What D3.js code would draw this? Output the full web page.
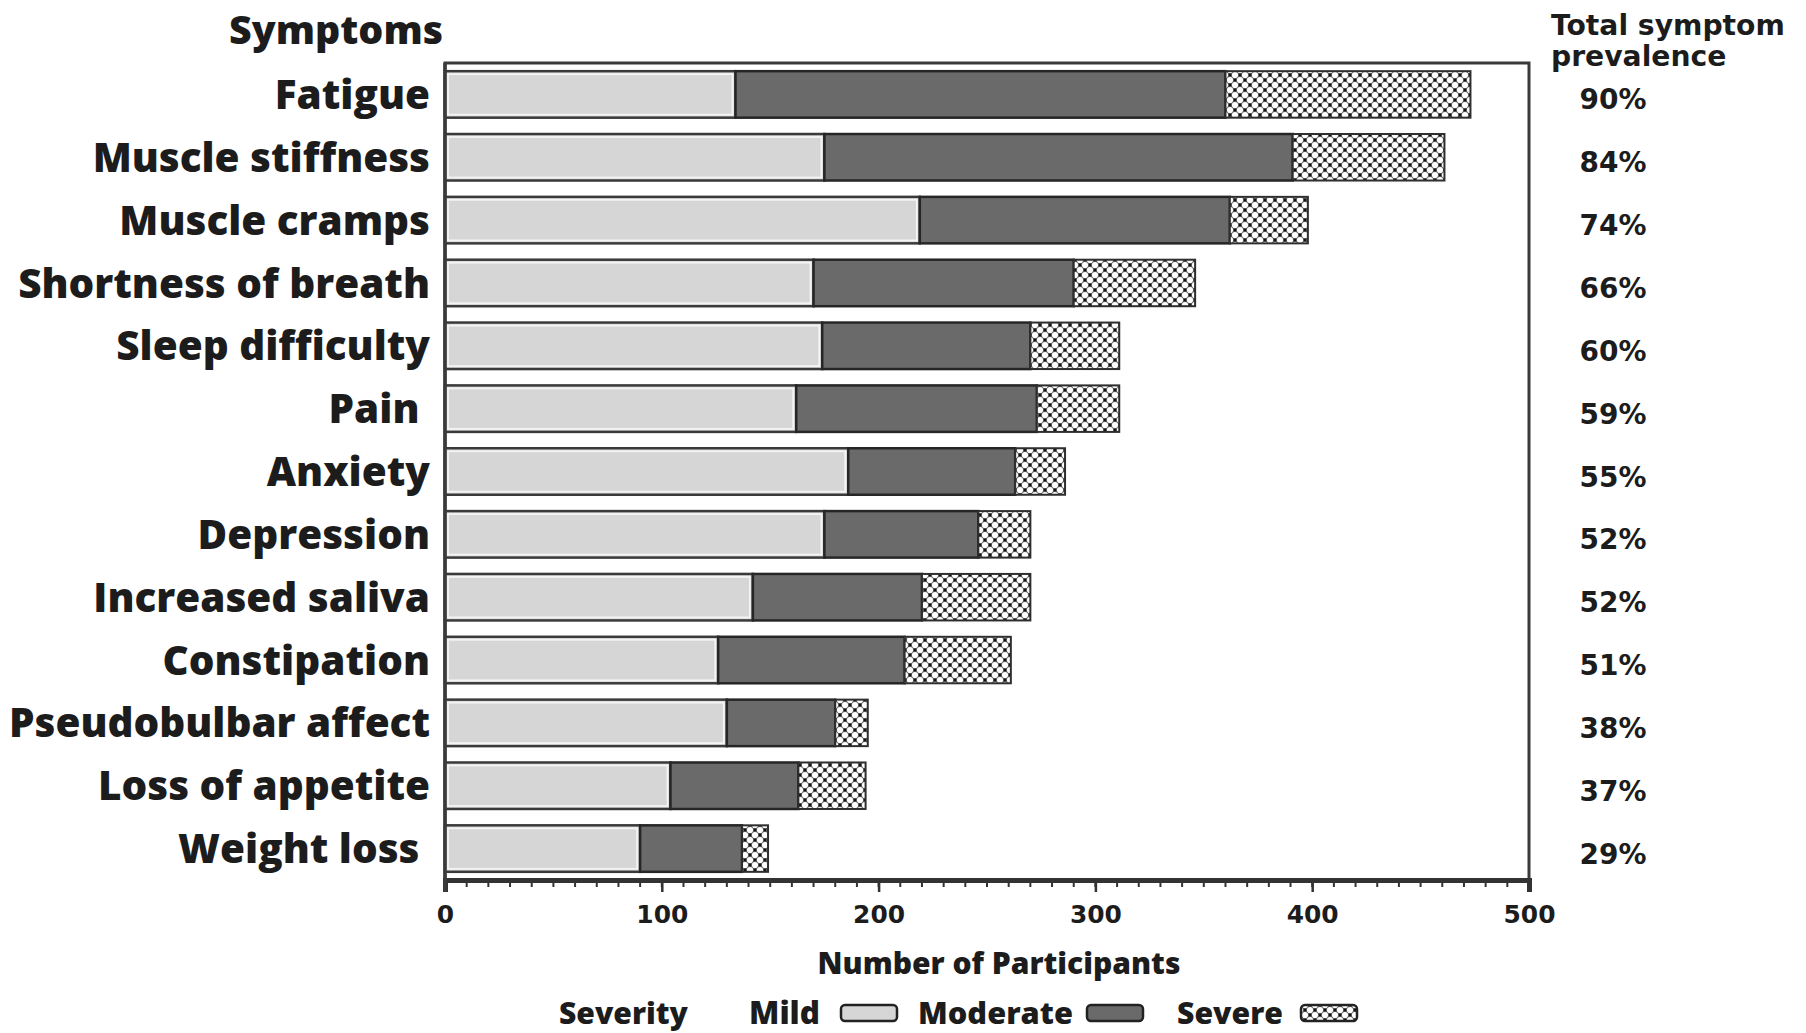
<!DOCTYPE html>
<html>
<head>
<meta charset="utf-8">
<script src="https://cdn.jsdelivr.net/npm/d3@7"></script>
<style>
  html, body { margin: 0; padding: 0; background: #ffffff; }
  svg { display: block; }
  text { white-space: pre; }
</style>
</head>
<body>
<svg id="chart" width="1806" height="1033"></svg>
<script>
// ---------------- data ----------------
const categories = ["Fatigue", "Muscle stiffness", "Muscle cramps", "Shortness of breath",
  "Sleep difficulty", "Pain ", "Anxiety", "Depression", "Increased saliva", "Constipation",
  "Pseudobulbar affect", "Loss of appetite", "Weight loss "];
const mild     = [134, 175, 219, 170, 174, 162, 186, 175, 142, 126, 130, 104, 90];
const moderate = [226, 216, 143, 120,  96, 111,  77,  71,  78,  86,  50,  59, 47];
const severe   = [113,  70,  36,  56,  41,  38,  23,  24,  50,  49,  15,  31, 12];
const prevalence = ["90%", "84%", "74%", "66%", "60%", "59%", "55%", "52%", "52%", "51%", "38%", "37%", "29%"];
const xTicks = [0, 100, 200, 300, 400, 500];
const severityLevels = ["Mild", "Moderate", "Severe"];
const yTitle = "Symptoms";
const xTitle = "Number of Participants";
const rightTitle = ["Total symptom", "prevalence"];
const legendTitle = "Severity";

// ---------------- layout ----------------
const svg = d3.select("#chart");
const plot = { left: 445, right: 1529, top: 63, bottom: 880 };
const labelFont = "'Open Sans', Lato, sans-serif";
const wideFont = "'DejaVu Sans', Verdana, sans-serif";
const ink = "#1c1c1c";

const x = d3.scaleLinear().domain([0, 500]).range([plot.left, plot.right]);
const y = d3.scaleBand().domain(categories).range([plot.top, plot.bottom])
  .paddingInner(0.26).paddingOuter(0.13);

const fillMild = "#d6d6d6", fillMod = "#6a6a6a";

// pattern for severe
const defs = svg.append("defs");
const P = 10;
const pat = defs.append("pattern").attr("id", "severePat")
  .attr("patternUnits", "userSpaceOnUse").attr("width", P).attr("height", P);
pat.append("rect").attr("width", P).attr("height", P).attr("fill", "#555");
[[0,0],[P,0],[0,P],[P,P],[P/2,P/2]].forEach(([cx, cy]) =>
  pat.append("circle").attr("cx", cx).attr("cy", cy).attr("r", 3.1).attr("fill", "#ffffff"));
[[P/2,0],[0,P/2],[P,P/2],[P/2,P]].forEach(([cx, cy]) =>
  pat.append("circle").attr("cx", cx).attr("cy", cy).attr("r", 1.2).attr("fill", "#111"));

// stacked data
const rows = categories.map((c, i) => ({ cat: c, parts: [
  { key: "Mild", x0: 0, x1: mild[i] },
  { key: "Moderate", x0: mild[i], x1: mild[i] + moderate[i] },
  { key: "Severe", x0: mild[i] + moderate[i], x1: mild[i] + moderate[i] + severe[i] }
]}));

// frame (top and right)
svg.append("path")
  .attr("d", `M${plot.left},${plot.bottom} V${plot.top} H${plot.right} V${plot.bottom}`)
  .attr("fill", "none").attr("stroke", "#3a3a3a").attr("stroke-width", 3);

// bars
const barG = svg.append("g");
rows.forEach(r => {
  const yy = y(r.cat), h = y.bandwidth();
  r.parts.forEach(p => {
    const x0 = x(p.x0), w = x(p.x1) - x(p.x0);
    if (p.key === "Mild") {
      barG.append("rect").attr("x", x0).attr("y", yy).attr("width", w).attr("height", h)
        .attr("fill", fillMild).attr("stroke", "#3a3a3a").attr("stroke-width", 2.5);
      barG.append("rect").attr("x", x0 + 3).attr("y", yy + 3).attr("width", w - 6).attr("height", h - 6)
        .attr("fill", "none").attr("stroke", "#f4f4f4").attr("stroke-width", 1.8);
    } else if (p.key === "Moderate") {
      barG.append("rect").attr("x", x0).attr("y", yy).attr("width", w).attr("height", h)
        .attr("fill", fillMod).attr("stroke", "#262626").attr("stroke-width", 2.5);
    } else {
      barG.append("rect").attr("x", x0).attr("y", yy).attr("width", w).attr("height", h)
        .attr("fill", "url(#severePat)").attr("stroke", "#2e2e2e").attr("stroke-width", 2);
    }
  });
});

// x axis
const minorTicks = d3.range(0, 501, 10);
const axisG = svg.append("g").attr("transform", `translate(0,${plot.bottom})`);
axisG.selectAll("line.minor").data(minorTicks).join("line").attr("class", "minor")
  .attr("x1", d => x(d)).attr("x2", d => x(d)).attr("y1", 0).attr("y2", 7)
  .attr("stroke", "#333").attr("stroke-width", 2);
const xAxis = d3.axisBottom(x).tickValues(xTicks).tickSize(12).tickPadding(13).tickFormat(d3.format("d"));
axisG.call(xAxis);
axisG.select(".domain").attr("stroke", "#333").attr("stroke-width", 5);
axisG.selectAll(".tick line").attr("stroke", "#333").attr("stroke-width", 2.5);
const tickTexts = axisG.selectAll(".tick text").attr("font-family", wideFont).attr("font-weight", "bold")
  .attr("fill", ink).attr("font-size", 23);
// left axis line
svg.append("line").attr("x1", plot.left).attr("x2", plot.left).attr("y1", plot.top).attr("y2", plot.bottom + 12)
  .attr("stroke", "#3a3a3a").attr("stroke-width", 3.5);

// helper to fit font size to a measured target width
function fitGroup(sel, refNode, target) {
  const w = refNode.getComputedTextLength();
  const fs = parseFloat(d3.select(refNode).attr("font-size"));
  sel.attr("font-size", fs * target / w);
}
fitGroup(tickTexts, tickTexts.nodes()[1], 52);

// category labels
const catLabels = svg.append("g").selectAll("text").data(categories).join("text")
  .attr("x", 430).attr("y", d => y(d) + y.bandwidth() / 2).attr("dy", "0.36em")
  .attr("text-anchor", "end").attr("font-family", labelFont).attr("font-weight", 800)
  .attr("font-size", 32).attr("fill", ink).text(d => d);
fitGroup(catLabels, catLabels.nodes()[3], 412);

// Symptoms title
const symT = svg.append("text").attr("x", 443).attr("y", 44).attr("text-anchor", "end")
  .attr("font-family", labelFont).attr("font-weight", 800).attr("font-size", 30)
  .attr("fill", ink).text(yTitle);
fitGroup(symT, symT.node(), 214);

// right column
const rt = svg.append("g").selectAll("text").data(rightTitle).join("text")
  .attr("x", 1551).attr("y", (d, i) => 35 + i * 31)
  .attr("font-family", wideFont).attr("font-weight", "bold").attr("font-size", 22)
  .attr("fill", ink).text(d => d);
fitGroup(rt, rt.nodes()[0], 234);

const pct = svg.append("g").selectAll("text").data(prevalence).join("text")
  .attr("x", 1613).attr("y", (d, i) => y(categories[i]) + y.bandwidth() / 2 + 5).attr("dy", "0.36em")
  .attr("text-anchor", "middle").attr("font-family", wideFont).attr("font-weight", "bold")
  .attr("font-size", 22).attr("fill", ink).text(d => d);
fitGroup(pct, pct.nodes()[0], 67);

// x title
const xt = svg.append("text").attr("x", 999).attr("y", 974).attr("text-anchor", "middle")
  .attr("font-family", labelFont).attr("font-weight", 800).attr("font-size", 26)
  .attr("fill", ink).text(xTitle);
fitGroup(xt, xt.node(), 363);

// legend
const legY = 1013;
const legG = svg.append("g");
const sevT = legG.append("text").attr("x", 559).attr("y", legY).attr("dy", "0.36em")
  .attr("font-family", labelFont).attr("font-weight", 800).attr("font-size", 26)
  .attr("fill", ink).text(legendTitle);
fitGroup(sevT, sevT.node(), 129);
const legText = [749, 918, 1177];
const legTextW = [71, 155, 106];
const legBox = [841, 1087, 1301];
severityLevels.forEach((s, i) => {
  const t = legG.append("text").attr("x", legText[i]).attr("y", legY).attr("dy", "0.36em")
    .attr("font-family", labelFont).attr("font-weight", 800).attr("font-size", 26)
    .attr("fill", ink).text(s);
  fitGroup(t, t.node(), legTextW[i]);
  const fill = i === 0 ? fillMild : (i === 1 ? fillMod : "url(#severePat)");
  legG.append("rect").attr("x", legBox[i]).attr("y", legY - 8).attr("width", 56).attr("height", 16)
    .attr("rx", 4).attr("fill", fill).attr("stroke", "#222").attr("stroke-width", 2.5);
});
</script>
</body>
</html>
